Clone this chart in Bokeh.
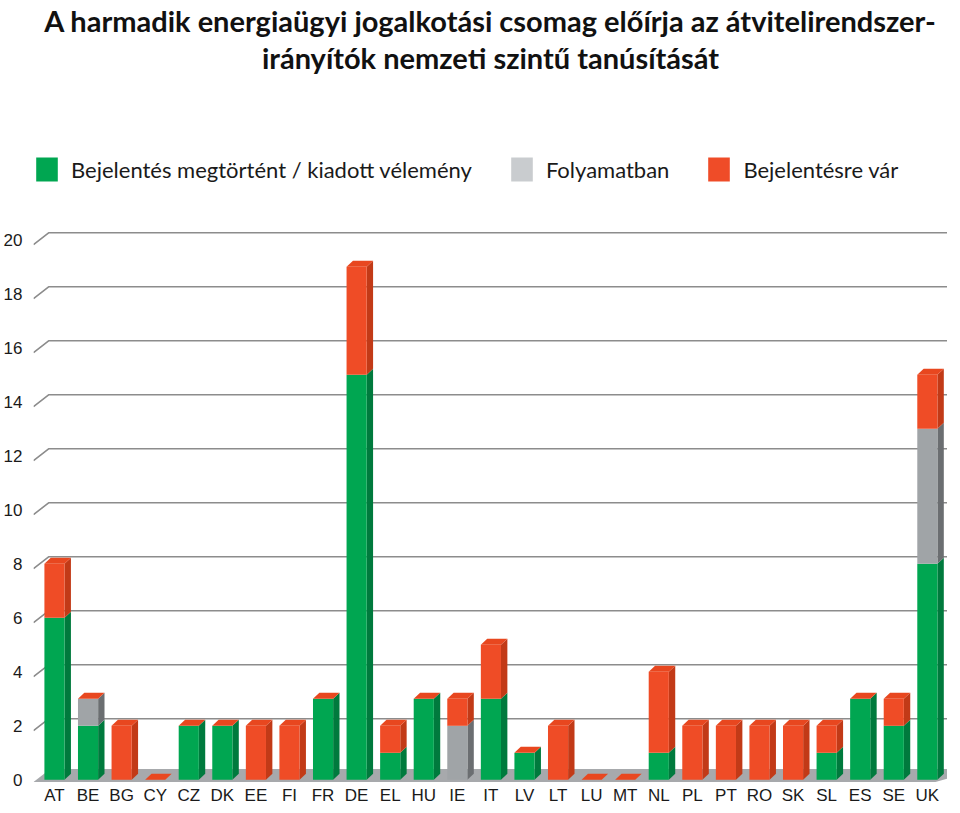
import numpy as np
from bokeh.plotting import figure
from bokeh.models import Range1d, FixedTicker, Legend, LegendItem, Title, ColumnDataSource
from bokeh.embed import file_html
from bokeh.resources import INLINE

# ---- data ----
countries = ["AT", "BE", "BG", "CY", "CZ", "DK", "EE", "FI", "FR", "DE", "EL", "HU", "IE", "IT",
             "LV", "LT", "LU", "MT", "NL", "PL", "PT", "RO", "SK", "SL", "ES", "SE", "UK"]
done =     [6, 2, 0, 0, 2, 2, 0, 0, 3, 15, 1, 3, 0, 3, 1, 0, 0, 0, 1, 0, 0, 0, 0, 1, 3, 2, 8]
progress = [0, 1, 0, 0, 0, 0, 0, 0, 0, 0, 0, 0, 2, 0, 0, 0, 0, 0, 0, 0, 0, 0, 0, 0, 0, 0, 5]
waiting =  [2, 0, 2, 0, 0, 0, 2, 2, 0, 4, 1, 0, 1, 2, 0, 2, 0, 0, 3, 2, 2, 2, 2, 1, 0, 1, 2]
y_ticks = [0, 2, 4, 6, 8, 10, 12, 14, 16, 18, 20]
series_names = ["Bejelentés megtörtént / kiadott vélemény", "Folyamatban", "Bejelentésre vár"]
title_lines = ["A harmadik energiaügyi jogalkotási csomag előírja az átvitelirendszer-",
               "irányítók nemzeti szintű tanúsítását"]

# ---- styles ----
FRONT = ["#00a651", "#a0a4a7", "#ef4c26"]
SIDE = ["#007a3d", "#6b6e71", "#c23a17"]
LEGEND_COL = ["#00a651", "#c9cccf", "#ef4c28"]
CAP = "#e8471f"
W, DX, DY = 0.6, 0.19, 0.22
X0, X1 = -0.625, 26.6
FRAME_H = 708
PX_PER_UNIT = 27.0
Y0 = -0.1

x = np.arange(len(countries), dtype=float)
series = [np.array(done, float), np.array(progress, float), np.array(waiting, float)]

p = figure(frame_width=914, frame_height=FRAME_H,
           x_range=Range1d(X0, X1), y_range=Range1d(Y0, Y0 + FRAME_H / PX_PER_UNIT),
           output_backend="svg", toolbar_location=None, title=None,
           min_border_left=30, min_border_right=0, min_border_top=4, min_border_bottom=0,
           outline_line_color=None)
p.grid.visible = False

# gridlines with a 3D-style left edge
gx, gy = [], []
for v in y_ticks[1:]:
    gx.append([X0, X0 + 0.45, X1])
    gy.append([v - 0.18, v + 0.26, v + 0.26])
p.multi_line(gx, gy, line_color="#8c8c8c", line_width=1.6)

# floor
p.patch([X0, X0 + 0.5, X1 + 1, 26.24], [-0.08, 0.4, 0.4, -0.08], fill_color="#a7a9ac", line_color=None)

# bars (front, side faces), stacked
bottom = np.zeros(len(countries))
for k, vals in enumerate(series):
    top = bottom + vals
    mask = vals > 0
    src = ColumnDataSource(dict(x=x[mask], b=bottom[mask], t=top[mask]))
    sx, sy = [], []
    for xi, b, t in zip(x[mask], bottom[mask], top[mask]):
        sx.append([xi + W / 2, xi + W / 2 + DX, xi + W / 2 + DX, xi + W / 2])
        sy.append([b, b + DY, t + DY, t])
    p.patches(sx, sy, fill_color=SIDE[k], line_color=None)
    p.vbar(x="x", bottom="b", top="t", width=W, source=src, fill_color=FRONT[k], line_color=None)
    bottom = top

# top caps
cx, cy = [], []
for xi, t in zip(x, bottom):
    cx.append([xi - W / 2, xi + W / 2, xi + W / 2 + DX, xi - W / 2 + DX])
    cy.append([t, t, t + DY, t + DY])
p.patches(cx, cy, fill_color=CAP, line_color=None)

# legend with zero-height stand-in renderers (legend colours differ slightly from bars)
items = []
for k, name in enumerate(series_names):
    r = p.vbar(x=x[:1], bottom=[0], top=[0], width=W, fill_color=LEGEND_COL[k], line_color=None)
    items.append(LegendItem(label=name, renderers=[r]))
legend = Legend(items=items, orientation="horizontal", location=(0, 598),
                glyph_width=27, glyph_height=30, label_standoff=11, spacing=36,
                label_text_font="Lato", label_text_font_size="22px", label_text_color="#1a1a1a",
                border_line_color=None, background_fill_alpha=0, margin=0, padding=0)
p.add_layout(legend, "center")

for line in reversed(title_lines):
    p.add_layout(Title(text=line, align="center", text_font="Lato", text_font_size="29px",
                       text_font_style="bold", text_color="#111111", standoff=0), "above")

# axes
p.yaxis.ticker = FixedTicker(ticks=y_ticks)
p.xaxis.ticker = FixedTicker(ticks=list(range(len(countries))))
p.xaxis.major_label_overrides = {i: c for i, c in enumerate(countries)}
for ax in (p.xaxis, p.yaxis):
    ax.axis_line_color = None
    ax.major_tick_line_color = None
    ax.minor_tick_line_color = None
    ax.major_tick_out = 0
    ax.major_tick_in = 0
    ax.major_label_text_font = "Liberation Sans"
    ax.major_label_text_color = "#1a1a1a"
p.xaxis.major_label_text_font_size = "17px"
p.yaxis.major_label_text_font_size = "17px"
p.xaxis.major_label_standoff = 3
p.yaxis.major_label_standoff = 11

open("out.html", "w").write(file_html(p, INLINE))
